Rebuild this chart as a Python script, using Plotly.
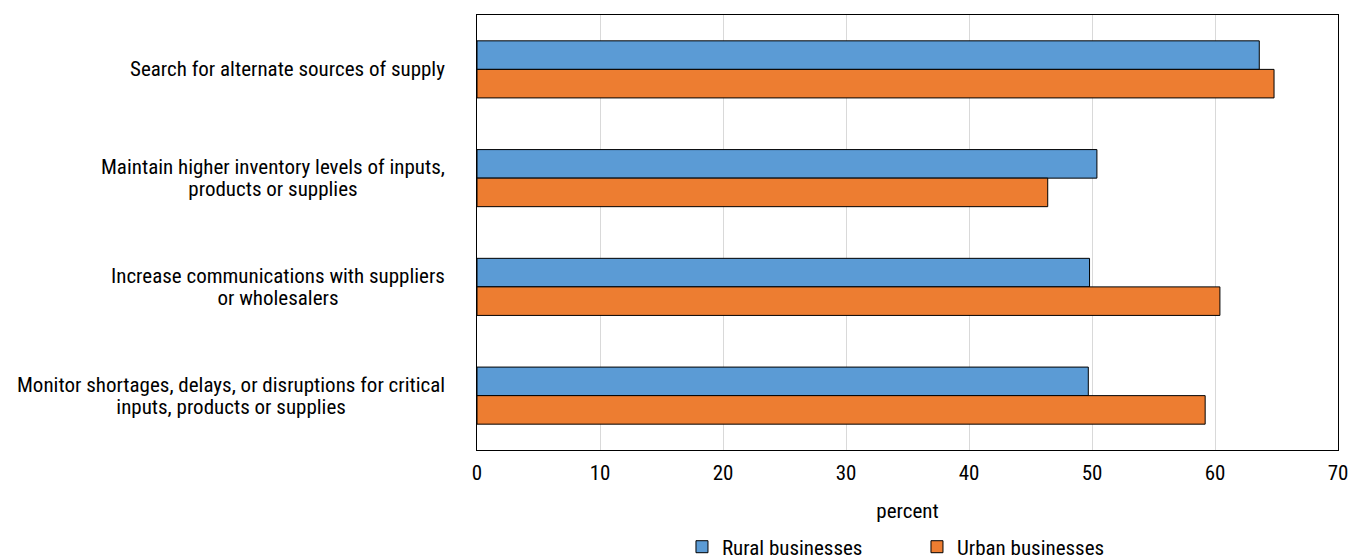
import plotly.graph_objects as go

categories = [
    "Search for alternate sources of supply",
    "Maintain higher inventory levels of inputs,<br>products or supplies",
    "Increase communications with suppliers<br>or wholesalers",
    "Monitor shortages, delays, or disruptions for critical<br>inputs, products or supplies",
]
rural = [63.6, 50.4, 49.8, 49.7]
urban = [64.8, 46.4, 60.4, 59.2]
series_names = ["Rural businesses", "Urban businesses"]
x_ticks = [0, 10, 20, 30, 40, 50, 60, 70]

FONT = "Liberation Sans Narrow, Roboto Condensed, DejaVu Sans Condensed, Arial Narrow, sans-serif"
FS = 21
LINE_H = 22

fig = go.Figure()
fig.add_trace(go.Bar(y=categories, x=rural, name=series_names[0], orientation="h",
                     marker=dict(color="#5B9BD5", line=dict(color="#000000", width=1))))
fig.add_trace(go.Bar(y=categories, x=urban, name=series_names[1], orientation="h",
                     marker=dict(color="#ED7D31", line=dict(color="#000000", width=1))))

# category labels: one annotation each; base font sets tight line spacing,
# spans carry the visible size
for c in categories:
    lines = c.split("<br>")
    txt = "<br>".join("<span style='font-size:%dpx'>%s</span>" % (FS, ln) for ln in lines)
    fig.add_annotation(x=0, xref="paper", y=c, yref="y", text=txt, showarrow=False,
                       xanchor="right", yanchor="middle", align="center", xshift=-30,
                       font=dict(family=FONT, size=LINE_H / 1.3, color="#000000"))

fig.update_layout(
    width=1349, height=559,
    margin=dict(l=477, r=11, t=15, b=109, autoexpand=False),
    barmode="group", bargap=0.475, bargroupgap=0,
    plot_bgcolor="#ffffff", paper_bgcolor="#ffffff",
    font=dict(family=FONT, size=FS, color="#000000"),
    showlegend=True,
    legend=dict(orientation="h", x=0.511, xanchor="center", y=-0.176, yanchor="top",
                font=dict(family=FONT, size=FS, color="#000000"),
                entrywidth=190, entrywidthmode="pixels", itemwidth=30,
                traceorder="normal"),
)
fig.update_xaxes(range=[0, 70], tickvals=x_ticks, showgrid=True, gridcolor="#d9d9d9", gridwidth=1,
                 showline=True, linecolor="#000000", linewidth=1, mirror=True, ticks="",
                 zeroline=False, automargin=False, ticklabelstandoff=4,
                 title=dict(text="percent", font=dict(family=FONT, size=FS), standoff=19),
                 tickfont=dict(family=FONT, size=FS))
fig.update_yaxes(autorange="reversed", showticklabels=False, showgrid=False, automargin=False,
                 showline=True, linecolor="#000000", linewidth=1, mirror=True, ticks="")

fig.write_html("out.html")
